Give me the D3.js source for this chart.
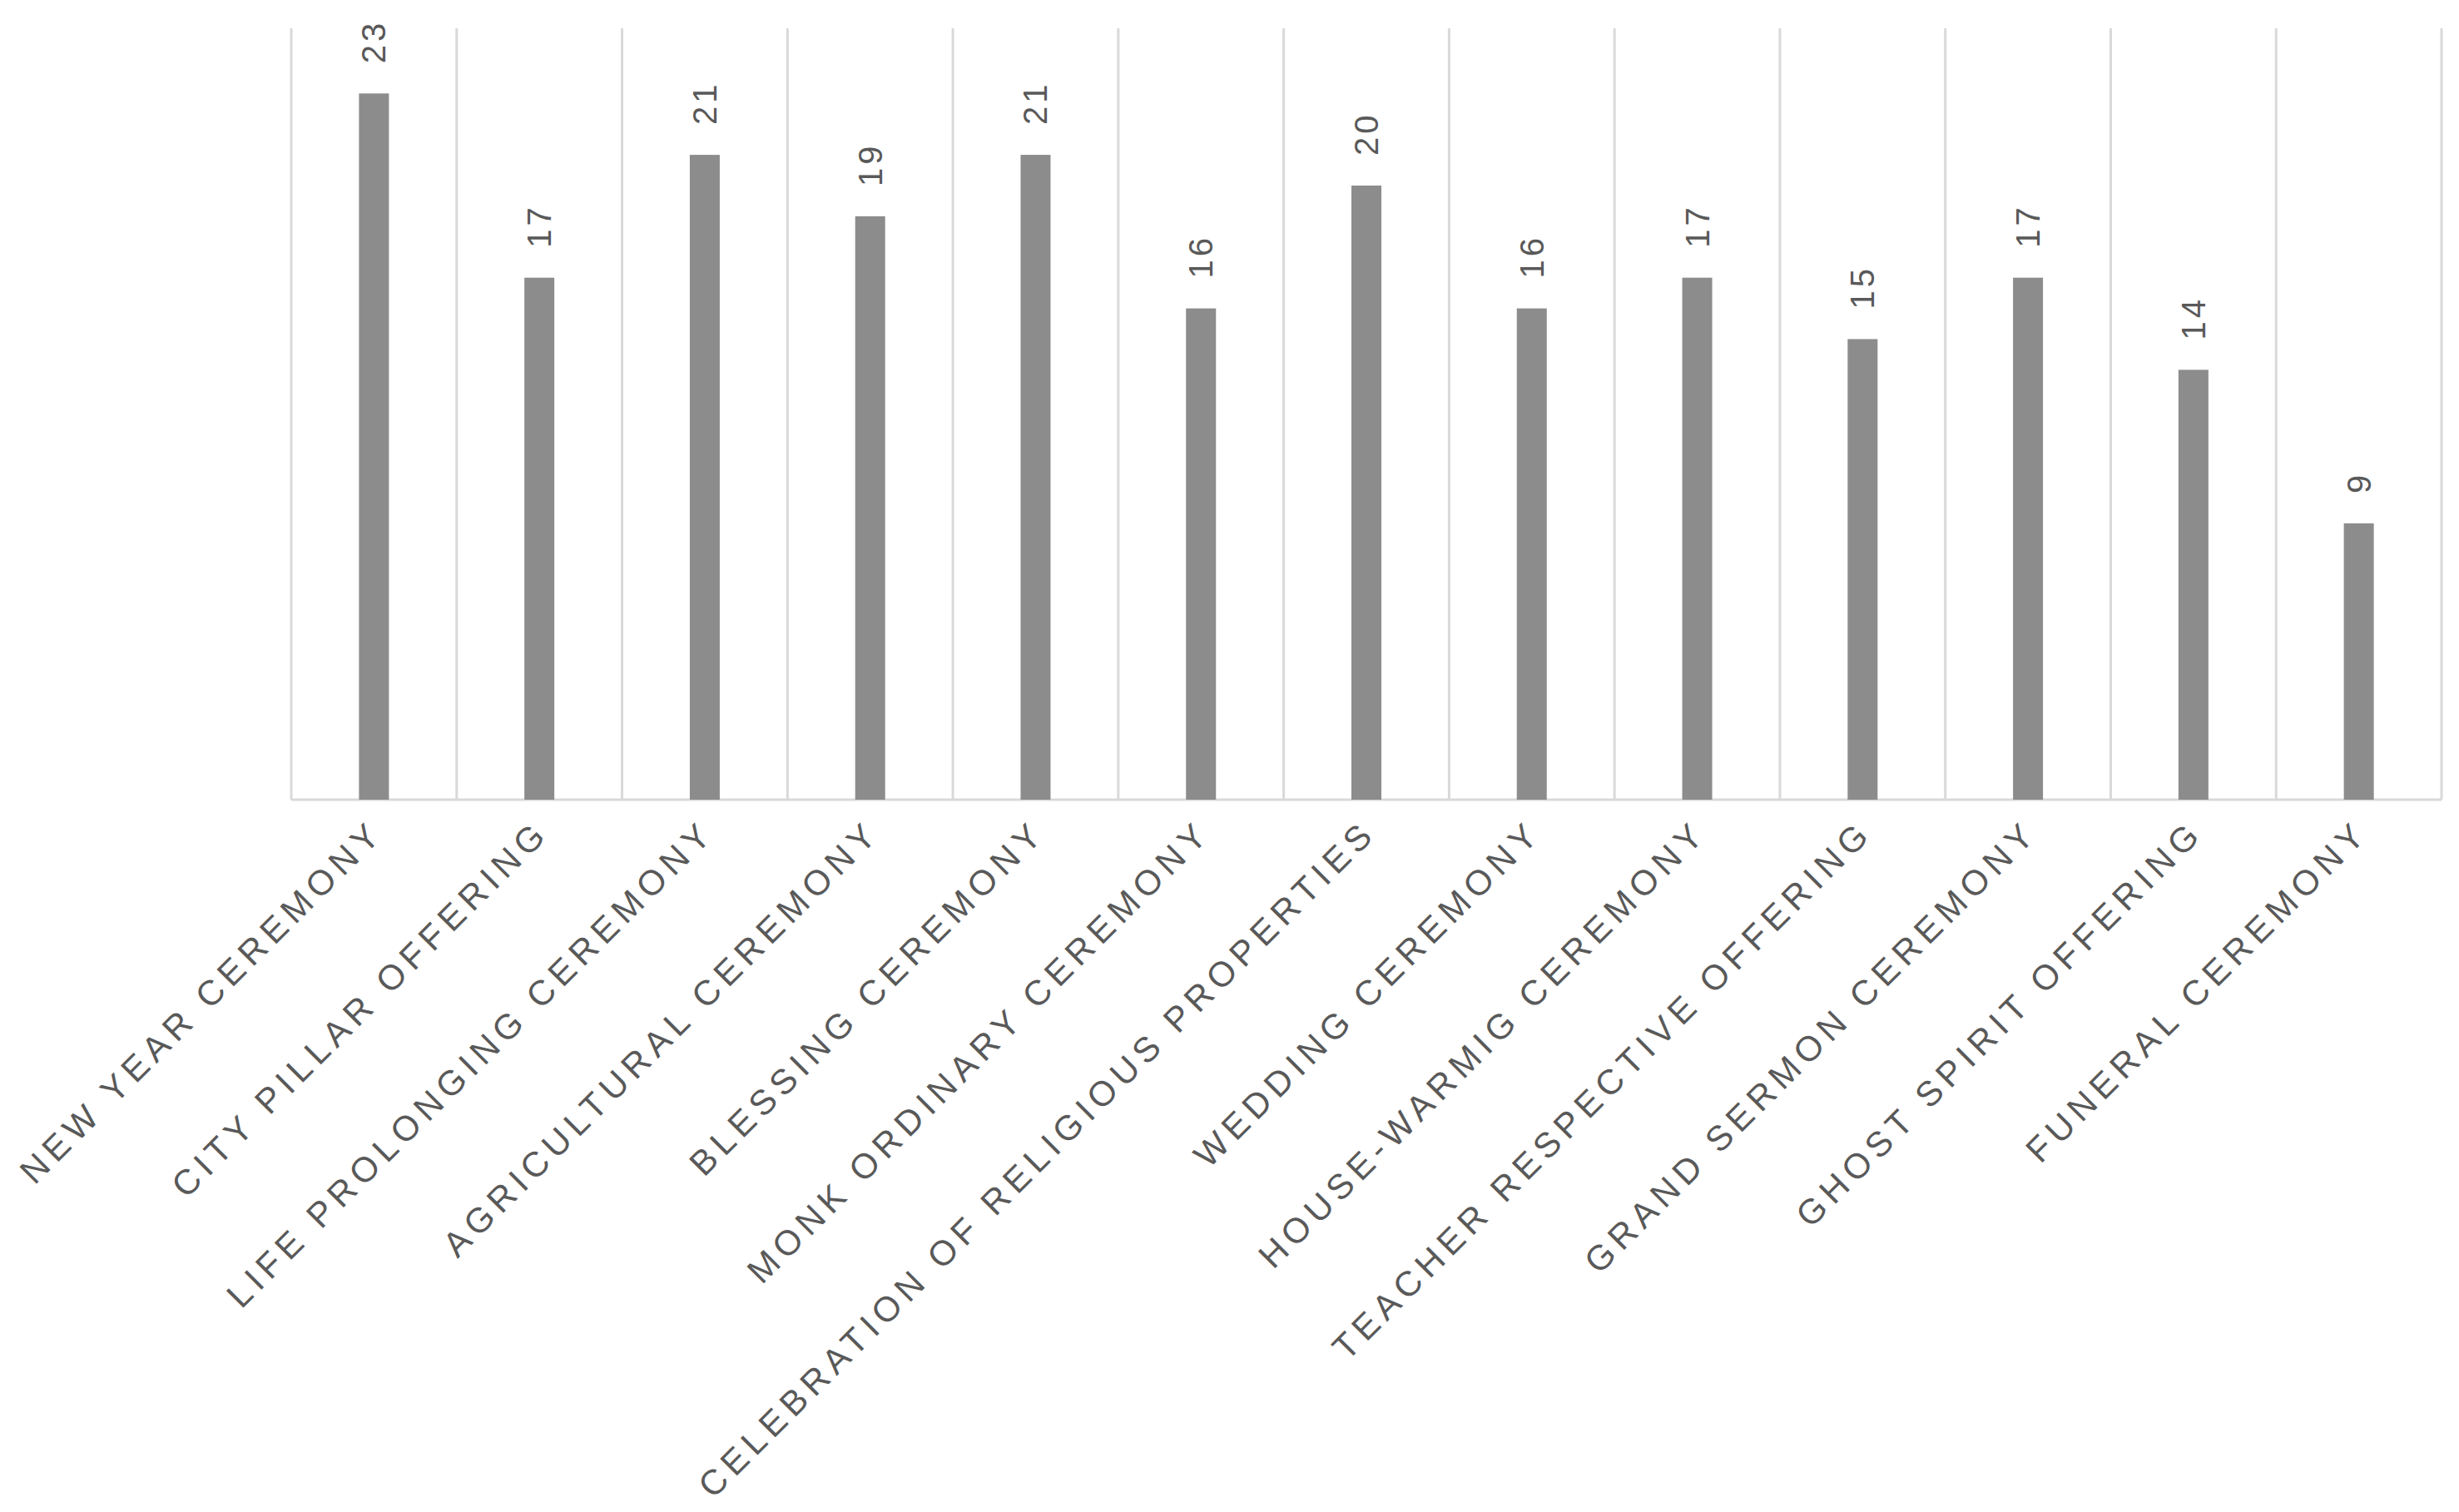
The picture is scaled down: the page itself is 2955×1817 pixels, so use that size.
<!DOCTYPE html>
<html>
<head>
<meta charset="utf-8">
<script src="https://cdn.jsdelivr.net/npm/d3@7"></script>
<style>
  body { margin: 0; background: #fff; }
  text { font-family: "Liberation Sans", Arial, sans-serif; fill: #595959; }
</style>
</head>
<body>
<svg id="chart"></svg>
<script>
// data
const categories = [
    "NEW YEAR CEREMONY", "CITY PILLAR OFFERING", "LIFE PROLONGING CEREMONY",
    "AGRICULTURAL CEREMONY", "BLESSING CEREMONY", "MONK ORDINARY CEREMONY",
    "CELEBRATION OF RELIGIOUS PROPERTIES", "WEDDING CEREMONY", "HOUSE-WARMIG CEREMONY",
    "TEACHER RESPECTIVE OFFERING", "GRAND SERMON CEREMONY", "GHOST SPIRIT OFFERING",
    "FUNERAL CEREMONY"
];
const counts = [23, 17, 21, 19, 21, 16, 20, 16, 17, 15, 17, 14, 9];

const width = 2955, height = 1817;
const left = 350, right = 2934, baseline = 961, gridTop = 34;

const svg = d3.select("#chart").attr("width", width).attr("height", height);

const x = d3.scaleBand().domain(categories).range([left, right]);
const y = d3.scaleLinear().domain([0, 25]).range([baseline, baseline - 25 * 36.9]);

// vertical gridlines between categories
const edges = categories.map(c => x(c)).concat([right]);
svg.selectAll("line.grid").data(edges).join("line")
    .attr("class", "grid")
    .attr("x1", d => d).attr("x2", d => d)
    .attr("y1", gridTop).attr("y2", baseline)
    .attr("stroke", "#d9d9d9").attr("stroke-width", 3);

svg.append("line")
    .attr("x1", left).attr("x2", right)
    .attr("y1", baseline).attr("y2", baseline)
    .attr("stroke", "#d9d9d9").attr("stroke-width", 3);

const barW = 36;
svg.selectAll("rect.bar").data(counts).join("rect")
    .attr("class", "bar")
    .attr("x", (d, i) => x(categories[i]) + x.bandwidth() / 2 - barW / 2)
    .attr("y", d => y(d))
    .attr("width", barW)
    .attr("height", d => baseline - y(d))
    .attr("fill", "#8c8c8c");

// value labels, rotated
svg.selectAll("text.val").data(counts).join("text")
    .attr("class", "val")
    .attr("transform", (d, i) => `translate(${x(categories[i]) + x.bandwidth() / 2 + 14},${y(d) - 36}) rotate(-90)`)
    .attr("text-anchor", "start")
    .style("font-size", "40px")
    .style("letter-spacing", "4px")
    .text(d => d);

// category labels
svg.selectAll("text.cat").data(categories).join("text")
    .attr("class", "cat")
    .attr("transform", d => `translate(${x(d) + x.bandwidth() / 2 + 14},${baseline + 42}) rotate(-45)`)
    .attr("text-anchor", "end")
    .style("font-size", "42px")
    .style("letter-spacing", "7px")
    .text(d => d);
</script>
</body>
</html>
